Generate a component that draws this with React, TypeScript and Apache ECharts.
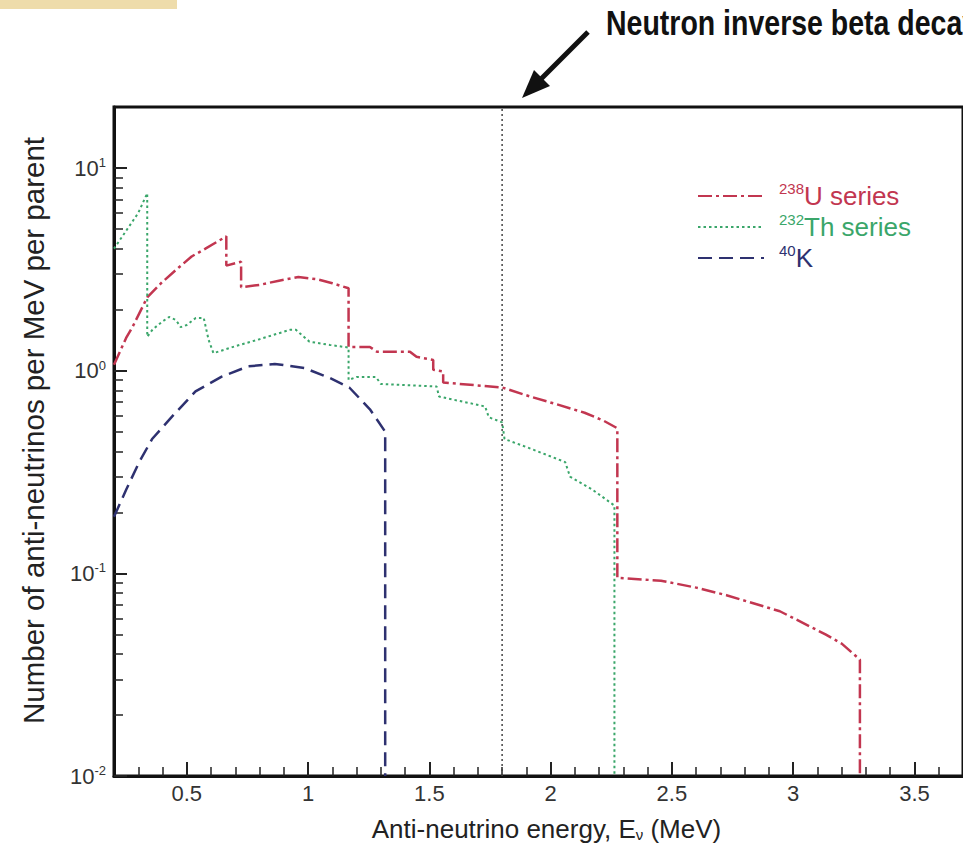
import React, { useEffect, useRef } from "react";
import * as echarts from "echarts";

// ---- axis ranges / ticks ----
const xMin = 0.2;
const xMax = 3.7;
const yMin = 0.01;
const yMax = 20;
const xMajorTicks = [0.5, 1, 1.5, 2, 2.5, 3, 3.5];
const xMinorTicks = [0.3, 0.4, 0.6, 0.7, 0.8, 0.9, 1.1, 1.2, 1.3, 1.4, 1.6, 1.7, 1.8, 1.9, 2.1, 2.2, 2.3, 2.4, 2.6, 2.7, 2.8, 2.9, 3.1, 3.2, 3.3, 3.4, 3.6];
const yMajorTickValues = [0.01, 0.1, 1, 10];
const yMinorTickValues = [0.02, 0.03, 0.04, 0.05, 0.06, 0.07, 0.08, 0.09, 0.2, 0.3, 0.4, 0.5, 0.6, 0.7, 0.8, 0.9, 2, 3, 4, 5, 6, 7, 8, 9];

// ---- series (energy MeV, anti-neutrinos per MeV per parent) ----
const seriesNames = ["238U series", "232Th series", "40K"];

const uSeries = [
  [0.2, 1.07], [0.25, 1.45], [0.276, 1.64], [0.337, 2.3], [0.398, 2.73], [0.467, 3.23], [0.52, 3.66], [0.577, 4.0], [0.663, 4.6],
  [0.663, 3.3], [0.724, 3.45], [0.724, 2.58], [0.8, 2.65], [0.88, 2.78], [0.96, 2.9], [1.04, 2.82], [1.1, 2.7], [1.167, 2.55],
  [1.167, 1.31], [1.255, 1.31], [1.284, 1.24], [1.42, 1.24], [1.447, 1.17], [1.516, 1.13], [1.516, 1.01], [1.557, 0.99],
  [1.557, 0.874], [1.8, 0.826], [1.924, 0.74], [2.03, 0.68], [2.14, 0.62], [2.22, 0.565], [2.275, 0.52],
  [2.275, 0.095], [2.455, 0.092], [2.6, 0.085], [2.725, 0.078], [2.945, 0.065], [3.133, 0.05], [3.2, 0.045], [3.275, 0.0375],
  [3.275, 0.01],
];

const thSeries = [
  [0.2, 4.0], [0.25, 4.9], [0.3, 6.0], [0.337, 7.5], [0.337, 1.47], [0.36, 1.6], [0.4, 1.75], [0.427, 1.84], [0.455, 1.78],
  [0.475, 1.64], [0.5, 1.68], [0.537, 1.82], [0.57, 1.82], [0.59, 1.42], [0.61, 1.22], [0.7, 1.32], [0.8, 1.43], [0.925, 1.59],
  [0.95, 1.59], [1.006, 1.39], [1.09, 1.34], [1.167, 1.3], [1.167, 0.9], [1.2, 0.93], [1.28, 0.93], [1.3, 0.86], [1.53, 0.835],
  [1.54, 0.745], [1.73, 0.666], [1.745, 0.589], [1.8, 0.556], [1.81, 0.46], [1.9, 0.42], [2.06, 0.354], [2.08, 0.3],
  [2.17, 0.26], [2.263, 0.216], [2.263, 0.01],
];

const kSeries = [
  [0.2, 0.19], [0.251, 0.26], [0.304, 0.354], [0.357, 0.46], [0.44, 0.595], [0.536, 0.79], [0.644, 0.935], [0.753, 1.05],
  [0.863, 1.08], [0.985, 1.03], [1.09, 0.92], [1.17, 0.826], [1.255, 0.645], [1.318, 0.5], [1.318, 0.01],
];

const ibdThreshold = 1.8;
const ibdLine = [[ibdThreshold, yMin], [ibdThreshold, yMax]];

const colors = { u: "#c23650", th: "#3aa66a", k: "#2e3170" };
const FONT = "Liberation Sans, Arial, sans-serif";

const tickOnlyX = (ticks: number[], len: number, width: number) => ({
  type: "value", min: xMin, max: xMax, position: "bottom",
  axisLine: { show: false, onZero: false },
  axisTick: { show: true, inside: true, length: len, customValues: ticks, lineStyle: { color: "#222", width } },
  axisLabel: { show: false },
  splitLine: { show: false },
});

const tickOnlyY = (ticks: number[], len: number, width: number) => ({
  type: "value", min: Math.log10(yMin), max: Math.log10(yMax), position: "left",
  axisLine: { show: false, onZero: false },
  axisTick: { show: true, inside: true, length: len, customValues: ticks.map((v) => Math.log10(v)), lineStyle: { color: "#222", width } },
  axisLabel: { show: false },
  splitLine: { show: false },
});

export default function App() {
  const ref = useRef<HTMLDivElement>(null);

  useEffect(() => {
    if (!ref.current) return;
    const chart = echarts.init(ref.current, undefined, { renderer: "svg" });

    const yLabel = (v: number) => {
      const e = Math.round(Math.log10(v));
      if (Math.abs(v - Math.pow(10, e)) > 1e-6 * v) return "";
      return `{b|10}{s|${e}}`;
    };

    const option: any = {
      animation: false,
      backgroundColor: "#ffffff",
      textStyle: { fontFamily: FONT },
      grid: {
        left: 114, top: 107, right: -9, bottom: 67,
        show: true, borderColor: "#111", borderWidth: 3, backgroundColor: "transparent",
      },
      xAxis: [
        {
          type: "value", min: xMin, max: xMax, position: "bottom",
          axisLine: { show: true, onZero: false, lineStyle: { color: "#111", width: 3 } },
          axisTick: { show: false },
          axisLabel: { customValues: xMajorTicks, fontSize: 22, color: "#333", margin: 6, fontFamily: FONT },
          splitLine: { show: false },
          name: "Anti-neutrino energy, E{sub|ν} (MeV)",
          nameLocation: "middle",
          nameGap: 40,
          nameTextStyle: {
            fontSize: 26, color: "#222", fontFamily: FONT, padding: [0, 0, 0, 16],
            rich: { sub: { fontSize: 15, color: "#222", verticalAlign: "bottom", lineHeight: 14, fontFamily: FONT } },
          },
        },
        tickOnlyX(xMajorTicks, 14, 2),
        tickOnlyX(xMinorTicks, 9, 1.5),
      ],
      yAxis: [
        {
          type: "log", logBase: 10, min: yMin, max: yMax, position: "left",
          axisLine: { show: true, onZero: false, lineStyle: { color: "#111", width: 3 } },
          axisTick: { show: false },
          axisLabel: {
            formatter: yLabel, margin: 8,
            rich: {
              b: { fontSize: 22, color: "#333", lineHeight: 24, fontFamily: FONT },
              s: { fontSize: 13, color: "#333", lineHeight: 12, verticalAlign: "top", fontFamily: FONT },
            },
          },
          splitLine: { show: false },
          minorTick: { show: false },
          name: "Number of anti-neutrinos per MeV per parent",
          nameLocation: "middle",
          nameGap: 66,
          nameTextStyle: { fontSize: 29.5, color: "#222", fontFamily: FONT, padding: [0, 0, 0, 22] },
        },
        tickOnlyY(yMajorTickValues, 13, 2),
        tickOnlyY(yMinorTickValues, 9, 1.5),
      ],
      legend: {
        data: seriesNames,
        orient: "vertical",
        left: 692, top: 176,
        itemWidth: 66, itemHeight: 14, itemGap: 3,
        itemStyle: { opacity: 0, borderWidth: 0 },
        formatter: (name: string) => {
          if (name === seriesNames[0]) return "{u1|238}{u2|U series}";
          if (name === seriesNames[1]) return "{t1|232}{t2|Th series}";
          return "{k1|40}{k2|K}";
        },
        textStyle: {
          rich: {
            u1: { fontSize: 15, color: colors.u, lineHeight: 14, verticalAlign: "top", padding: [0, 0, 0, 10], fontFamily: FONT },
            u2: { fontSize: 26, color: colors.u, lineHeight: 30, fontFamily: FONT },
            t1: { fontSize: 15, color: colors.th, lineHeight: 14, verticalAlign: "top", padding: [0, 0, 0, 10], fontFamily: FONT },
            t2: { fontSize: 26, color: colors.th, lineHeight: 30, fontFamily: FONT },
            k1: { fontSize: 15, color: colors.k, lineHeight: 14, verticalAlign: "top", padding: [0, 0, 0, 10], fontFamily: FONT },
            k2: { fontSize: 26, color: colors.k, lineHeight: 30, fontFamily: FONT },
          },
        },
      },
      series: [
        {
          name: seriesNames[0], type: "line", data: uSeries, symbol: "none", showSymbol: false,
          lineStyle: { color: colors.u, width: 2.5, type: [14, 4, 3, 4] }, itemStyle: { color: colors.u },
        },
        {
          name: seriesNames[1], type: "line", data: thSeries, symbol: "none", showSymbol: false,
          lineStyle: { color: colors.th, width: 2, type: [2.5, 3] }, itemStyle: { color: colors.th },
        },
        {
          name: seriesNames[2], type: "line", data: kSeries, symbol: "none", showSymbol: false,
          lineStyle: { color: colors.k, width: 2.5, type: [14, 7] }, itemStyle: { color: colors.k },
        },
        {
          name: "IBD threshold", type: "line", data: ibdLine, symbol: "none", showSymbol: false,
          lineStyle: { color: "#444", width: 1.5, type: [2, 3] }, silent: true,
        },
      ],
      graphic: [
        { type: "rect", left: 0, top: 0, shape: { width: 177, height: 9 }, style: { fill: "#eedcab" } },
        { type: "line", shape: { x1: 588, y1: 32, x2: 536, y2: 84 }, style: { stroke: "#111", lineWidth: 5 } },
        { type: "polygon", shape: { points: [[522, 98], [534, 70], [550, 86]] }, style: { fill: "#111" } },
        {
          type: "text", x: 606, y: 23, scaleY: 1.25,
          style: { text: "Neutron inverse beta decay", font: "bold 28.5px Liberation Sans, Arial, sans-serif", fill: "#111", verticalAlign: "middle" },
        },
      ],
    };

    chart.setOption(option);
    return () => chart.dispose();
  }, []);

  return <div ref={ref} style={{ position: "absolute", left: 0, top: 0, width: 963, height: 847 }} />;
}
